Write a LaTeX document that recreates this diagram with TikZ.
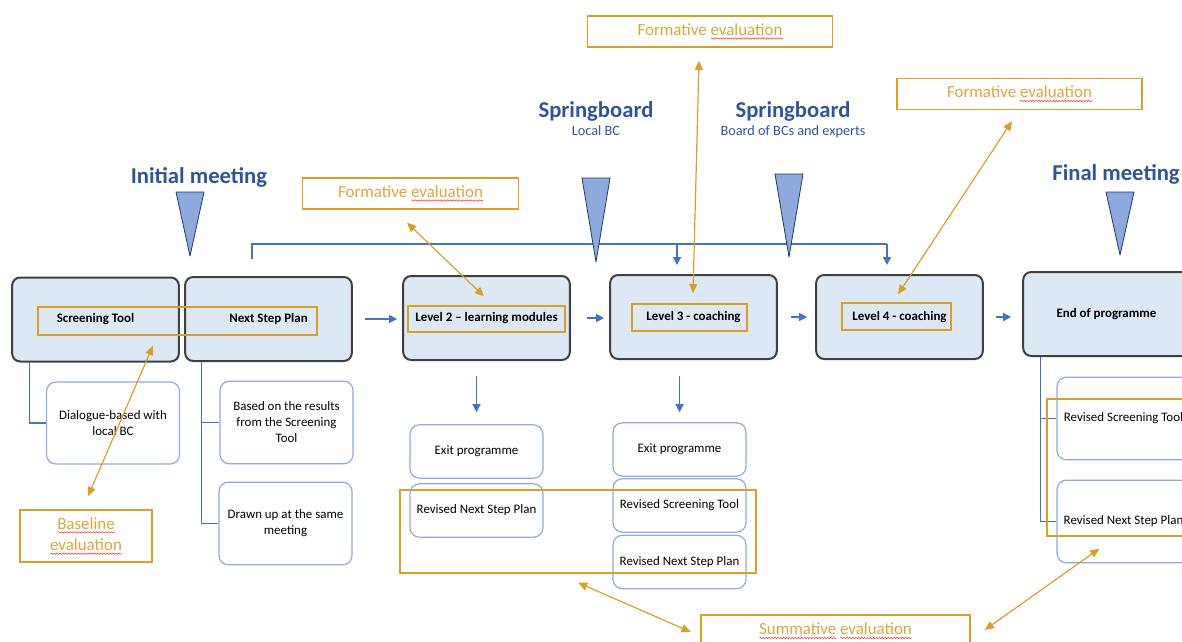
\documentclass[tikz,border=0pt]{standalone}
\usepackage{fontspec}
\setmainfont{Carlito}
\usetikzlibrary{arrows.meta,positioning,decorations.pathmorphing}

\definecolor{titleblue}{RGB}{47,85,151}
\definecolor{linkblue}{RGB}{68,114,196}
\definecolor{boxfill}{RGB}{221,232,245}
\definecolor{boxedge}{RGB}{64,64,64}
\definecolor{subedge}{RGB}{143,170,220}
\definecolor{trifill}{RGB}{142,169,219}
\definecolor{triedge}{RGB}{31,56,100}
\definecolor{evalgold}{RGB}{214,160,42}
\definecolor{evaltext}{RGB}{222,164,60}

% red wavy underline as the picture shows it
\newcommand{\spell}[1]{%
  \setbox0\hbox{#1}%
  \rlap{\tikz[baseline=0pt]\draw[red!80,line width=0.4pt,decorate,
      decoration={snake,amplitude=0.5pt,segment length=2.2pt}]
      (0pt,-2.4pt) -- (\the\wd0,-2.4pt);}%
  \box0\relax}

\begin{document}
\begin{tikzpicture}[x=0.75pt,y=-0.75pt,
    meettitle/.style={font=\fontsize{17}{20}\selectfont\bfseries,text=titleblue,inner sep=0pt},
    meetsub/.style={font=\fontsize{10.7}{13}\selectfont,text=titleblue,inner sep=0pt},
    meettri/.style={draw=triedge,fill=trifill,line width=0.6pt,line join=round},
    mainbox/.style={draw=boxedge,line width=1.5pt,fill=boxfill,rounded corners=6pt,
        minimum width=125pt,minimum height=63pt,font=\fontsize{9.7}{12}\selectfont\bfseries},
    subbox/.style={draw=subedge,line width=0.9pt,rounded corners=7pt,minimum width=99.75pt,
        align=center,font=\fontsize{9.7}{12}\selectfont},
    evalbox/.style={draw=evalgold,line width=1pt,text=evaltext,align=center,
        font=\fontsize{12.7}{16}\selectfont},
    evalmark/.style={draw=evalgold,line width=1pt},
    blueline/.style={draw=linkblue,line width=1pt},
    bluearrow/.style={blueline,-{Triangle[length=6pt,width=6pt]}},
    evalarrow/.style={draw=evalgold,line width=0.9pt,
        {Triangle[length=7pt,width=6pt]}-{Triangle[length=7pt,width=6pt]}}]
    \useasboundingbox (0,0) rectangle (1182,642);
    \clip (0,0) rectangle (1182,642);

    % meetings on top
    \coordinate (brL) at (252,259);
    \coordinate (brA) at (677,244);
    \coordinate (brB) at (887,244);
    \draw[blueline] (brL) |- (brB);
    \node[meettitle] (initial) at (199,177) {Initial meeting};
    \node[meettitle] (spring1) at (596,111) {Springboard};
    \node[meetsub] (local) at (596,131) {Local BC};
    \node[meettitle] (spring2) at (793,111) {Springboard};
    \node[meetsub] (board) at (793,132) {Board of BCs and experts};
    \node[meettitle] (final) at (1116,174) {Final meeting};
    \foreach \x/\y/\z in {190/192/256, 596/178/262, 789/174/257, 1120/192/255}
        \draw[meettri] (\x-14,\y) -- (\x+14,\y) -- (\x,\z) -- cycle;

    % programme steps
    \node[mainbox] (scr) at (95.5,319.5) {Screening Tool};
    \node[mainbox] (nsp) at (268.5,319) {Next Step Plan};
    \node[mainbox] (lv2) at (486.5,318) {Level 2 – learning modules};
    \node[mainbox] (lv3) at (693.5,317) {Level 3 - coaching};
    \node[mainbox] (lv4) at (899.5,317) {Level 4 - coaching};
    \node[mainbox] (fin) at (1106.5,314) {End of programme};

    \draw[bluearrow,shorten <=9pt,shorten >=3.75pt] (nsp.east) -- (nsp.east -| lv2.west);
    \draw[bluearrow,shorten <=12pt,shorten >=3.75pt] (lv2.east) -- (lv2.east -| lv3.west);
    \draw[bluearrow,shorten <=9.75pt,shorten >=6pt] (lv3.east) -- (lv3.east -| lv4.west);
    \draw[bluearrow,shorten <=9pt,shorten >=8.25pt] (lv4.east) -- (lv4.east -| fin.west);
    \draw[bluearrow,shorten >=6.75pt] (brA) -- (brA |- lv3.north);
    \draw[bluearrow,shorten >=6.75pt] (brB) -- (brB |- lv4.north);

    % details below
    \node[subbox,minimum height=61.5pt] (dlg) at (113,423) {Dialogue-based with\\local BC};
    \node[subbox,minimum height=62pt] (bas) at (286.5,422.5) {Based on the results\\from the Screening\\Tool};
    \node[subbox,minimum height=62pt] (drw) at (285.5,523.5) {Drawn up at the same\\meeting};
    \node[subbox,minimum height=40pt] (ex2) at (476.5,451.5) {Exit programme};
    \node[subbox,minimum height=40pt] (rn2) at (476.5,510.5) {Revised Next Step Plan};
    \node[subbox,minimum height=40pt] (ex3) at (679.5,449.5) {Exit programme};
    \node[subbox,minimum height=40pt] (rs3) at (679.5,505.5) {Revised Screening Tool};
    \node[subbox,minimum height=40pt] (rn3) at (679.5,562) {Revised Next Step Plan};
    \node[subbox,minimum height=62pt] (rsf) at (1123.5,418.5) {Revised Screening Tool};
    \node[subbox,minimum height=62pt] (rnf) at (1123.5,521.5) {Revised Next Step Plan};

    \draw[blueline] ([xshift=13.5pt]scr.south west) |- (dlg.west);
    \draw[blueline] ([xshift=12.75pt]nsp.south west) |- (bas.west);
    \draw[blueline] ([xshift=12.75pt]nsp.south west) |- (drw.west);
    \draw[blueline] ([xshift=13.5pt]fin.south west) |- (rsf.west);
    \draw[blueline] ([xshift=13.5pt]fin.south west) |- (rnf.west);
    \draw[bluearrow,shorten <=11.25pt,shorten >=9pt] (lv2.south -| ex2.north) -- (ex2.north);
    \draw[bluearrow,shorten <=12pt,shorten >=7.5pt] (lv3.south -| ex3.north) -- (ex3.north);

    % evaluation
    \node[evalmark,minimum width=209.25pt,minimum height=21pt] (mkst) at (177.5,321) {};
    \node[evalmark,minimum width=117.75pt,minimum height=19.5pt] (mk2) at (486.5,319) {};
    \node[evalmark,minimum width=86.25pt,minimum height=20.25pt] (mk3) at (689.5,317.5) {};
    \node[evalmark,minimum width=81.75pt,minimum height=20.25pt] (mk4) at (896.5,316.5) {};
    \node[evalmark,minimum width=267pt,minimum height=62.25pt] (mkrev) at (578,531.5) {};
    \node[evalmark,minimum width=122.25pt,minimum height=102.75pt] (mkend) at (1128.5,467.5) {};

    \node[evalbox,minimum width=99pt,minimum height=39pt] (base) at (86,536) {\spell{Baseline}\\\spell{evaluation}};
    \node[evalbox,minimum width=162pt,minimum height=23.25pt] (fe1) at (410.5,193.5) {Formative \spell{evaluation}};
    \node[evalbox,minimum width=183.75pt,minimum height=23.25pt] (fe2) at (710,31.5) {Formative \spell{evaluation}};
    \node[evalbox,minimum width=183.75pt,minimum height=23.25pt] (fe3) at (1019.5,94) {Formative \spell{evaluation}};
    \node[evalbox,minimum width=201.75pt,minimum height=24pt] (summ) at (835.5,631) {\spell{Summative} \spell{evaluation}};

    \draw[evalarrow] ([shift={(2,-13)}]base.north) -- ([shift={(-24.5,10)}]mkst.south);
    \draw[evalarrow] ([shift={(-3.5,13)}]fe1.south) -- ([shift={(-2.5,-9)}]mk2.north);
    \draw[evalarrow] ([shift={(-11,13)}]fe2.south) -- ([shift={(3.5,-10)}]mk3.north);
    \draw[evalarrow] ([shift={(-7.5,11)}]fe3.south) -- ([shift={(1.5,-8)}]mk4.north);
    \draw[evalarrow] ([shift={(0,9)}]mkrev.south) -- ([shift={(-9.5,1)}]summ.west);
    \draw[evalarrow] ([shift={(14,-1)}]summ.east) -- ([shift={(53,12)}]mkend.south west);
\end{tikzpicture}
\end{document}
